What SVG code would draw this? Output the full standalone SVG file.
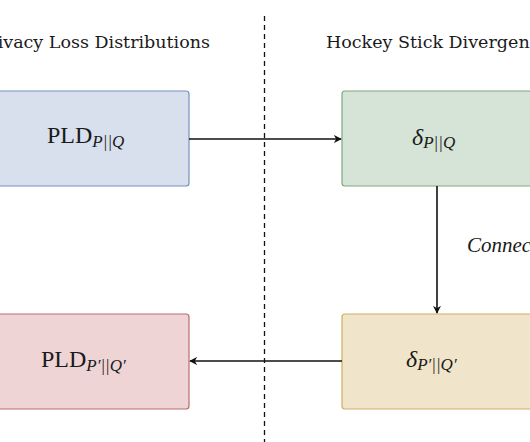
<svg xmlns="http://www.w3.org/2000/svg" width="530" height="442" viewBox="0 0 530 442">
<style>
.box{stroke-width:1.2}
.hdr{font-family:"DejaVu Serif","Liberation Serif",serif;font-size:17.5px;fill:#1a1a1a}
.lbl{font-family:"Liberation Serif",serif;font-size:24px;fill:#1a1a1a}
.sub{font-size:17px;font-style:italic}
.conn{stroke:#111;stroke-width:1.6;fill:none}
.lab{font-family:"Liberation Serif",serif;font-size:21px;font-style:italic;fill:#1a1a1a}
</style>
<defs>
<marker id="ah" viewBox="0 0 10 10" refX="9" refY="5" markerWidth="8" markerHeight="8" markerUnits="userSpaceOnUse" orient="auto">
<path d="M0,0 L10,5 L0,10 L3,5 Z" fill="#111"/>
</marker>
</defs>
<rect width="530" height="442" fill="#fff"/>
<line x1="264.5" y1="16" x2="264.5" y2="442" stroke="#111" stroke-width="1.3" stroke-dasharray="5,4"/>
<text class="hdr" x="210" y="48" text-anchor="end">Privacy Loss Distributions</text>
<text class="hdr" x="326" y="48">Hockey Stick Divergence</text>
<g id="pld1">
<rect class="box" x="-6" y="91" width="195" height="95" rx="3" fill="#d8e0ee" stroke="#7590c0"/>
<text class="lbl" x="47" y="143">PLD<tspan class="sub" dy="4">P||Q</tspan></text>
</g>
<g id="delta1">
<rect class="box" x="342" y="91" width="200" height="95" rx="3" fill="#d5e4d6" stroke="#7fa97f"/>
<text class="lbl" x="412" y="145" font-style="italic">δ<tspan class="sub" dy="3">P||Q</tspan></text>
</g>
<g id="pld2">
<rect class="box" x="-6" y="314" width="195" height="95" rx="3" fill="#efd4d6" stroke="#b86d70"/>
<text class="lbl" x="41" y="367">PLD<tspan class="sub" dy="4">P′||Q′</tspan></text>
</g>
<g id="delta2">
<rect class="box" x="342" y="314" width="200" height="95" rx="3" fill="#f0e5ca" stroke="#cfae5e"/>
<text class="lbl" x="406" y="367" font-style="italic">δ<tspan class="sub" dy="3">P′||Q′</tspan></text>
</g>
<g id="connectors">
<line class="conn" x1="189" y1="139" x2="341" y2="139" marker-end="url(#ah)"/>
<line class="conn" x1="437" y1="186" x2="437" y2="313" marker-end="url(#ah)"/>
<line class="conn" x1="342" y1="361" x2="190" y2="361" marker-end="url(#ah)"/>
<text class="lab" x="467" y="252">Connection</text>
</g>
</svg>
